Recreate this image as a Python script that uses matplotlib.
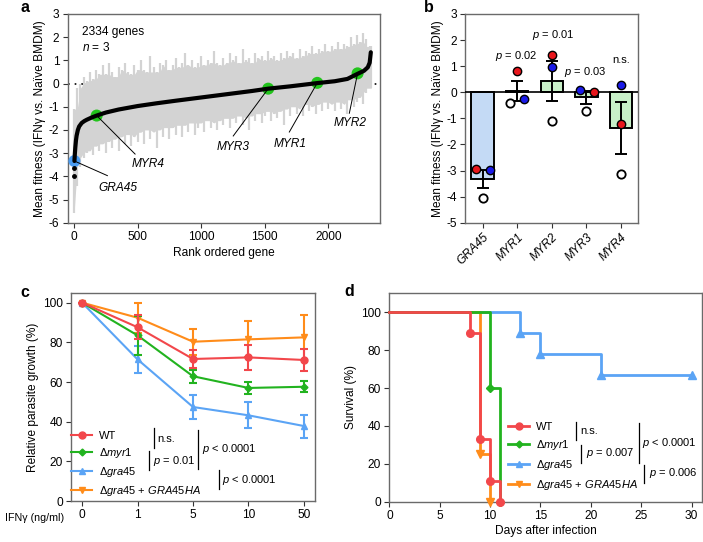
import numpy as np
import matplotlib.pyplot as plt
from matplotlib.lines import Line2D

plt.rcParams['font.family'] = ['Liberation Sans', 'DejaVu Sans']
plt.rcParams['mathtext.fontset'] = 'custom'
plt.rcParams['mathtext.rm'] = 'Liberation Sans'
plt.rcParams['mathtext.it'] = 'Liberation Sans:italic'
plt.rcParams['axes.unicode_minus'] = False
FS = 8.6
plt.rcParams['font.size'] = FS

# ---------------- data ----------------
# panel a: ranked mean fitness curve
curve_rank = [3, 6, 10, 15, 20, 30, 40, 60, 80, 100, 140, 178, 250, 350, 500, 650, 800,
              1000, 1200, 1400, 1527, 1700, 1913, 2050, 2150, 2230, 2280, 2310, 2325, 2334]
curve_fit = [-3.34, -3.05, -2.75, -2.45, -2.25, -2.0, -1.85, -1.7, -1.62, -1.56, -1.46, -1.38,
             -1.25, -1.12, -0.97, -0.85, -0.74, -0.6, -0.46, -0.32, -0.22, -0.12, 0.02, 0.1,
             0.2, 0.42, 0.55, 0.7, 0.9, 1.35]
low_rank = [0, 1]
low_fit = [-3.97, -3.65]

band_rank = list(range(0, 2326, 25)) + [2338]
band_hi = [-1.1, -0.2, 0.0, 0.3, 0.1, 0.5, 0.2, 0.6, 0.4, 0.8, 0.4, 0.9, 0.5, 0.3, 0.7, 0.6,
           0.9, 0.5, 0.4, 0.8, 0.6, 1.0, 0.6, 0.5, 1.2, 0.7, 0.5, 0.9, 0.8, 1.0, 0.6, 0.8,
           1.1, 0.7, 0.9, 1.3, 0.8, 1.0, 0.7, 0.9, 1.2, 0.8, 1.0, 0.9, 1.4, 0.9, 0.8, 1.1,
           0.9, 1.3, 1.0, 1.2, 0.9, 1.5, 1.0, 1.1, 0.9, 1.3, 1.1, 1.2, 1.0, 1.4, 1.1, 1.2,
           1.0, 1.3, 1.1, 1.4, 1.2, 1.3, 1.1, 1.5, 1.2, 1.4, 1.3, 1.6, 1.3, 1.5, 1.4, 1.7,
           1.4, 1.6, 1.5, 1.8, 1.5, 1.7, 1.6, 2.0, 1.7, 2.1, 1.8, 2.2, 1.9, 1.6, 1.6]
band_lo = [-5.6, -4.4, -3.6, -3.2, -3.0, -2.9, -3.1, -2.7, -2.9, -2.6, -3.0, -2.5, -2.8, -2.4,
           -2.9, -2.3, -2.6, -2.2, -2.7, -2.3, -2.5, -2.1, -2.6, -2.0, -2.4, -2.1, -2.8, -2.0,
           -2.3, -1.9, -2.4, -1.9, -2.2, -1.8, -2.3, -1.8, -2.1, -1.7, -2.2, -1.9, -1.7, -2.1,
           -1.6, -1.9, -1.7, -2.0, -1.6, -1.8, -1.5, -1.9, -1.5, -1.7, -1.4, -1.8, -1.5, -2.0,
           -1.4, -1.6, -1.3, -1.7, -1.4, -1.2, -1.6, -1.3, -1.5, -1.2, -1.8, -1.1, -1.4, -1.0,
           -1.3, -1.1, -1.4, -0.9, -1.2, -1.0, -1.3, -0.9, -1.2, -0.8, -1.1, -0.9, -1.2, -0.8,
           -1.1, -0.9, -1.3, -0.7, -1.0, -0.8, -0.6, -0.9, -0.4, -0.2, -0.2]

hit_genes = ['GRA45', 'MYR4', 'MYR3', 'MYR1', 'MYR2']
hit_rank = [3, 178, 1527, 1913, 2230]
hit_fit = [-3.34, -1.38, -0.22, 0.03, 0.44]

# panel b: replicate fitness values
b_genes = ['GRA45', 'MYR1', 'MYR2', 'MYR3', 'MYR4']
rep_red = [-2.95, 0.83, 1.42, 0.02, -1.23]
rep_blue = [-2.99, -0.27, 0.98, 0.09, 0.29]
rep_white = [-4.04, -0.42, -1.10, -0.70, -3.14]
b_pvals = ['$\\it{p}$ = 0.02', '$\\it{p}$ = 0.01', '$\\it{p}$ = 0.03', 'n.s.']

# panel c: relative parasite growth
ifng = ['0', '1', '5', '10', '50']
c_wt = [100, 87.6, 71.6, 72.4, 71.1]
c_wt_err = [0, 6.0, 4.7, 6.2, 5.7]
c_myr1 = [100, 83.5, 62.9, 57.0, 57.6]
c_myr1_err = [0, 10.0, 3.2, 2.9, 2.8]
c_gra45 = [100, 71.4, 47.4, 43.2, 37.8]
c_gra45_err = [0, 7.0, 5.8, 6.5, 5.8]
c_comp = [100, 92.4, 80.3, 81.5, 82.5]
c_comp_err = [0, 7.6, 6.6, 9.0, 11.5]

# panel d: survival
d_wt_t = [0, 8, 9, 10, 11]
d_wt_s = [100, 88.9, 33.3, 11.1, 0]
d_myr1_t = [0, 10, 11]
d_myr1_s = [100, 60, 0]
d_gra45_t = [0, 13, 15, 21, 30]
d_gra45_s = [100, 88.9, 77.8, 66.7, 66.7]
d_comp_t = [0, 9, 10]
d_comp_s = [100, 25, 0]

labels = ['WT', 'Δ$\\it{myr1}$', 'Δ$\\it{gra45}$', 'Δ$\\it{gra45}$ + $\\it{GRA45HA}$']
RED, GREEN, BLUE, ORANGE = '#f2474b', '#22b31f', '#5ba4f5', '#ff8c1a'
markers = ['o', 'D', '^', 'v']
msizes = [5, 3.5, 5, 5]


def style(ax):
    for s in ax.spines.values():
        s.set_color('#6a6a6a')
        s.set_linewidth(1.0)
    ax.tick_params(direction='out', length=3.5, width=0.8, color='#333333',
                   labelsize=FS, pad=2.5)


fig = plt.figure(figsize=(7.03, 5.42), dpi=100)

# ---------------- panel a ----------------
ax = fig.add_axes([0.0963, 0.5891, 0.4442, 0.3851])
ax.axhline(0, color='black', lw=1.2, ls=(0, (1, 3)), zorder=0)
hi = np.array(band_hi)
lo = np.array(band_lo)
core_hi = np.minimum(np.minimum(hi, np.roll(hi, 1)), np.roll(hi, -1))
core_lo = np.maximum(np.maximum(lo, np.roll(lo, 1)), np.roll(lo, -1))
core_hi[[0, -1]] = hi[[0, -1]]
core_lo[[0, -1]] = lo[[0, -1]]
ax.fill_between(band_rank, core_lo, core_hi, color='#d3d3d3', lw=0, zorder=1)
ax.vlines(band_rank, lo, hi, color='#d3d3d3', lw=1.6, zorder=1)
ax.plot(curve_rank, curve_fit, color='black', lw=3, solid_capstyle='round', zorder=4)
ax.plot(low_rank, low_fit, 'o', color='black', ms=2.5, zorder=4)
hit_cols = ['#4a9cf2'] + ['#22c41c'] * 4
ax.scatter(hit_rank, hit_fit, s=75, c=hit_cols, zorder=3, lw=0)
lab_xy = [(262, -3.97, 346, -4.5), (480, -3.04, 584, -3.47), (1252, -2.26, 1252, -2.75),
          (1693, -2.09, 1698, -2.62), (2165, -1.28, 2170, -1.69)]
for g, r, f, (lx, ly, tx, ty) in zip(hit_genes, hit_rank, hit_fit, lab_xy):
    ax.plot([r, lx], [f, ly], color='black', lw=0.7, zorder=5)
    ax.text(tx, ty, g, ha='center', va='center', style='italic')
ax.text(60, 2.24, '2334 genes', va='center')
ax.text(60, 1.56, '$\\it{n}$ = 3', va='center')
ax.set_xlim(-50, 2406)
ax.set_ylim(-6, 3)
ax.set_xticks([0, 500, 1000, 1500, 2000])
ax.set_yticks(range(-6, 4))
ax.set_xlabel('Rank ordered gene', labelpad=3)
ax.set_ylabel('Mean fitness (IFNγ vs. Naïve BMDM)', labelpad=2)
style(ax)

# ---------------- panel b ----------------
ax = fig.add_axes([0.6619, 0.5891, 0.2461, 0.3851])
reps = np.array([rep_red, rep_blue, rep_white])
means = reps.mean(axis=0)
sems = reps.std(axis=0, ddof=1) / np.sqrt(3)
xb = np.arange(len(b_genes))
bar_cols = ['#c4daf5'] + ['#c8f0c8'] * 4
ax.bar(xb, means, width=0.65, color=bar_cols, edgecolor='black', lw=1.4, zorder=2)
ax.axhline(0, color='black', lw=1.2, zorder=3)
ax.errorbar(xb, means, yerr=sems, fmt='none', ecolor='black', elinewidth=1.4,
            capsize=4, capthick=1.4, zorder=4)
jit_red = [-0.2, 0, 0, 0.21, 0]
jit_blue = [0.21, 0.2, 0, -0.2, 0]
jit_white = [0, -0.21, 0, 0, 0]
ax.scatter(xb + jit_white, rep_white, s=36, facecolor='white', edgecolor='black', lw=1.3, zorder=5)
ax.scatter(xb + jit_red, rep_red, s=36, facecolor='#e8161c', edgecolor='black', lw=1.0, zorder=6)
ax.scatter(xb + jit_blue, rep_blue, s=36, facecolor='#1a1ae8', edgecolor='black', lw=1.0, zorder=6)
for xp, yp, t in zip([0.96, 2.03, 2.97, 4.0], [1.4, 2.18, 0.79, 1.24], b_pvals):
    ax.text(xp, yp, t, ha='center', va='center', fontsize=FS - 0.6)
ax.set_xlim(-0.5, 4.5)
ax.set_ylim(-5, 3)
ax.set_yticks(range(-5, 4))
ax.set_xticks(xb)
ax.set_xticklabels(b_genes, rotation=45, ha='right', rotation_mode='anchor', style='italic')
ax.set_ylabel('Mean fitness (IFNγ vs. Naïve BMDM)', labelpad=2)
style(ax)

# ---------------- panel c ----------------
ax = fig.add_axes([0.1010, 0.0756, 0.3471, 0.3843])
xc = np.arange(len(ifng))
series = [(c_comp, c_comp_err, ORANGE, 3), (c_gra45, c_gra45_err, BLUE, 2),
          (c_myr1, c_myr1_err, GREEN, 1), (c_wt, c_wt_err, RED, 0)]
for vals, err, col, k in series:
    ax.errorbar(xc, vals, yerr=err, color=col, lw=1.5, marker=markers[k], ms=msizes[k],
                elinewidth=1.5, capsize=3, capthick=1.5, zorder=3 + (3 - k))
ax.set_xlim(-0.2, 4.2)
ax.set_ylim(0, 105)
ax.set_xticks(xc)
ax.set_xticklabels(ifng)
ax.set_yticks(range(0, 101, 20))
ax.set_ylabel('Relative parasite growth (%)', labelpad=3)
ax.text(-0.03, -0.082, 'IFNγ (ng/ml)', transform=ax.transAxes, ha='right', va='center',
        fontsize=FS - 0.9)
handles = [Line2D([], [], color=c, lw=1.5, marker=m, ms=s)
           for c, m, s in zip([RED, GREEN, BLUE, ORANGE], markers, msizes)]
ax.legend(handles, labels, loc='lower left', bbox_to_anchor=(0.0, 0.015), frameon=False,
          borderpad=0, borderaxespad=0, handlelength=1.9, handletextpad=0.6,
          labelspacing=0.45, fontsize=FS - 0.6)
for x0, y0, y1 in [(1.29, 26.6, 36.6), (1.21, 15.6, 25.2), (2.09, 16, 35.8), (2.46, 5.9, 15.6)]:
    ax.plot([x0, x0], [y0, y1], color='black', lw=0.9)
ANN = dict(va='center', fontsize=FS - 0.6)
ax.text(1.35, 31.3, 'n.s.', **ANN)
ax.text(1.28, 20.3, '$\\it{p}$ = 0.01', **ANN)
ax.text(2.17, 26, '$\\it{p}$ < 0.0001', **ANN)
ax.text(2.53, 10.6, '$\\it{p}$ < 0.0001', **ANN)
style(ax)

# ---------------- panel d ----------------
ax = fig.add_axes([0.5538, 0.0744, 0.4444, 0.3845])
surv = [(d_gra45_t, d_gra45_s, BLUE, 2, 2), (d_comp_t, d_comp_s, ORANGE, 3, 3),
        (d_myr1_t, d_myr1_s, GREEN, 1, 4), (d_wt_t, d_wt_s, RED, 0, 5)]
for t, s, col, k, z in surv:
    ax.step(t, s, where='post', color=col, lw=2, zorder=z, clip_on=False)
    ax.plot(t[1:], s[1:], ls='none', marker=markers[k], ms=msizes[k] + 0.5, color=col,
            zorder=z, clip_on=False)
ax.set_xlim(0, 31)
ax.set_ylim(0, 110)
ax.set_xticks(range(0, 31, 5))
ax.set_yticks(range(0, 101, 20))
ax.set_xlabel('Days after infection', labelpad=2)
ax.set_ylabel('Survival (%)', labelpad=3)
handles = [Line2D([], [], color=c, lw=2, marker=m, ms=s)
           for c, m, s in zip([RED, GREEN, BLUE, ORANGE], markers, msizes)]
ax.legend(handles, labels, loc='lower left', bbox_to_anchor=(0.381, 0.045), frameon=False,
          borderpad=0, borderaxespad=0, handlelength=1.9, handletextpad=0.6,
          labelspacing=0.55, fontsize=FS - 0.6)
for x0, y0, y1 in [(18.55, 32.6, 42.3), (19.04, 20.3, 30), (24.75, 20.6, 41.4), (25.3, 9.7, 19.4)]:
    ax.plot([x0, x0], [y0, y1], color='black', lw=0.9)
ax.text(18.9, 37.4, 'n.s.', **ANN)
ax.text(19.5, 25.6, '$\\it{p}$ = 0.007', **ANN)
ax.text(25.1, 31.2, '$\\it{p}$ < 0.0001', **ANN)
ax.text(25.8, 15, '$\\it{p}$ = 0.006', **ANN)
style(ax)

# panel letters
for x, y, t in [(20.7, 7.5, 'a'), (424, 7.5, 'b'), (20.7, 292.5, 'c'), (344, 291.5, 'd')]:
    fig.text(x / 703, 1 - y / 542, t, fontsize=11.5, weight='bold', va='center')

fig.savefig('out.png', dpi=100)
